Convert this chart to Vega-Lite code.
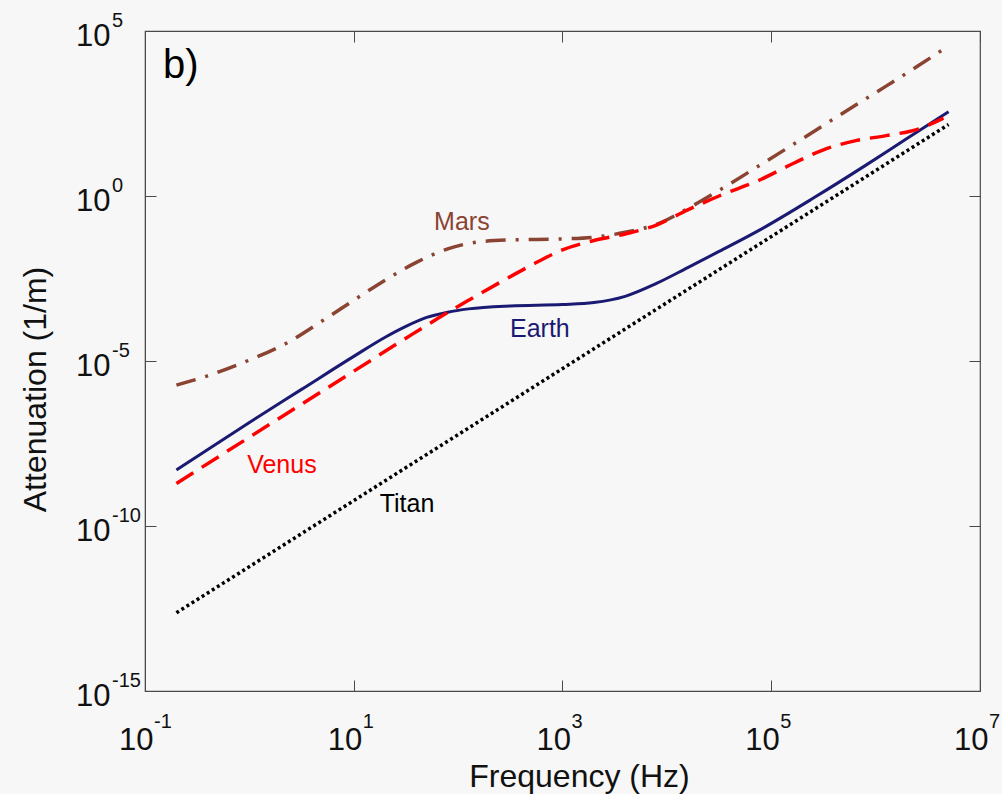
{
  "$schema": "https://vega.github.io/schema/vega-lite/v6.json",
  "width": 835,
  "height": 660,
  "autosize": "none",
  "padding": {"left": 145, "top": 31, "right": 22, "bottom": 103},
  "background": "#f7f7f7",
  "config": {
    "view": {"stroke": "#4a4a4a", "strokeWidth": 1.2},
    "font": "Liberation Sans",
    "axis": {"grid": false, "domainColor": "#4a4a4a", "tickColor": "#4a4a4a", "labelColor": "#111111", "titleColor": "#111111", "labelFont": "Liberation Sans", "titleFont": "Liberation Sans", "titleFontWeight": "normal"}
  },
  "datasets": {
    "curves": [
      {"series": "Titan", "f": 0.2, "a": 2.35e-13},
      {"series": "Titan", "f": 5000000, "a": 147},
      {"series": "Earth", "f": 0.2, "a": 5.0e-9},
      {"series": "Earth", "f": 1, "a": 1.38e-7},
      {"series": "Earth", "f": 3.16, "a": 1.38e-6},
      {"series": "Earth", "f": 10, "a": 1.38e-5},
      {"series": "Earth", "f": 20, "a": 5.25e-5},
      {"series": "Earth", "f": 31.6, "a": 1.12e-4},
      {"series": "Earth", "f": 50, "a": 2.09e-4},
      {"series": "Earth", "f": 79.4, "a": 3.02e-4},
      {"series": "Earth", "f": 126, "a": 3.8e-4},
      {"series": "Earth", "f": 316, "a": 4.68e-4},
      {"series": "Earth", "f": 1000, "a": 5.13e-4},
      {"series": "Earth", "f": 2000, "a": 5.89e-4},
      {"series": "Earth", "f": 3980, "a": 9.12e-4},
      {"series": "Earth", "f": 7940, "a": 2.24e-3},
      {"series": "Earth", "f": 15850, "a": 6.76e-3},
      {"series": "Earth", "f": 31620, "a": 2.09e-2},
      {"series": "Earth", "f": 79430, "a": 9.77e-2},
      {"series": "Earth", "f": 251200, "a": 0.851},
      {"series": "Earth", "f": 794300, "a": 8.32},
      {"series": "Earth", "f": 1995000, "a": 54.95},
      {"series": "Earth", "f": 5000000, "a": 355},
      {"series": "Mars", "f": 0.2, "a": 1.86e-6},
      {"series": "Mars", "f": 0.398, "a": 3.55e-6},
      {"series": "Mars", "f": 1, "a": 1.07e-5},
      {"series": "Mars", "f": 2.24, "a": 3.39e-5},
      {"series": "Mars", "f": 5.01, "a": 1.66e-4},
      {"series": "Mars", "f": 10, "a": 6.92e-4},
      {"series": "Mars", "f": 20, "a": 2.82e-3},
      {"series": "Mars", "f": 39.8, "a": 9.77e-3},
      {"series": "Mars", "f": 79.4, "a": 2.51e-2},
      {"series": "Mars", "f": 158.5, "a": 4.07e-2},
      {"series": "Mars", "f": 316, "a": 4.68e-2},
      {"series": "Mars", "f": 1000, "a": 5.01e-2},
      {"series": "Mars", "f": 1995, "a": 5.62e-2},
      {"series": "Mars", "f": 3981, "a": 7.94e-2},
      {"series": "Mars", "f": 7943, "a": 0.138},
      {"series": "Mars", "f": 15850, "a": 0.417},
      {"series": "Mars", "f": 31620, "a": 1.48},
      {"series": "Mars", "f": 79430, "a": 8.91},
      {"series": "Mars", "f": 199500, "a": 55.0},
      {"series": "Mars", "f": 501200, "a": 347},
      {"series": "Mars", "f": 1259000, "a": 2138},
      {"series": "Mars", "f": 2512000, "a": 8511},
      {"series": "Mars", "f": 5000000, "a": 35480},
      {"series": "Venus", "f": 0.2, "a": 1.95e-9},
      {"series": "Venus", "f": 1, "a": 4.9e-8},
      {"series": "Venus", "f": 3.16, "a": 4.9e-7},
      {"series": "Venus", "f": 10, "a": 4.9e-6},
      {"series": "Venus", "f": 31.6, "a": 4.9e-5},
      {"series": "Venus", "f": 79.4, "a": 2.95e-4},
      {"series": "Venus", "f": 126, "a": 6.92e-4},
      {"series": "Venus", "f": 251, "a": 2.4e-3},
      {"series": "Venus", "f": 501, "a": 7.94e-3},
      {"series": "Venus", "f": 1000, "a": 2.34e-2},
      {"series": "Venus", "f": 1995, "a": 4.47e-2},
      {"series": "Venus", "f": 3981, "a": 7.08e-2},
      {"series": "Venus", "f": 7943, "a": 0.132},
      {"series": "Venus", "f": 15850, "a": 0.38},
      {"series": "Venus", "f": 31620, "a": 1.0},
      {"series": "Venus", "f": 79430, "a": 3.16},
      {"series": "Venus", "f": 158500, "a": 9.33},
      {"series": "Venus", "f": 316200, "a": 25.1},
      {"series": "Venus", "f": 631000, "a": 46.8},
      {"series": "Venus", "f": 1259000, "a": 67.6},
      {"series": "Venus", "f": 2512000, "a": 104.7},
      {"series": "Venus", "f": 4467000, "a": 229}
    ],
    "labels": [
      {"label": "Mars", "f": 108.6, "a": 0.093},
      {"label": "Earth", "f": 607, "a": 5.5e-5},
      {"label": "Venus", "f": 2.05, "a": 4.0e-9},
      {"label": "Titan", "f": 32.4, "a": 2.7e-10}
    ],
    "panel": [
      {"label": "b)", "f": 0.22, "a": 3690}
    ],
    "xexp": [
      {"f": 0.1, "e": "-1"},
      {"f": 10, "e": "1"},
      {"f": 1000, "e": "3"},
      {"f": 100000, "e": "5"},
      {"f": 10000000, "e": "7"}
    ],
    "yexp": [
      {"a": 1e-15, "e": "-15"},
      {"a": 1e-10, "e": "-10"},
      {"a": 1e-5, "e": "-5"},
      {"a": 1, "e": "0"},
      {"a": 100000, "e": "5"}
    ]
  },
  "resolve": {"axis": {"x": "independent", "y": "independent"}},
  "layer": [
    {
      "data": {"name": "curves"},
      "transform": [{"filter": "datum.series == 'Titan'"}],
      "mark": {"type": "line", "color": "#000000", "strokeWidth": 3.5, "strokeDash": [3, 3]},
      "encoding": {
        "x": {"field": "f", "type": "quantitative",
              "scale": {"type": "log", "domain": [0.1, 10000000], "nice": false},
              "axis": {"orient": "bottom", "values": [0.1, 10, 1000, 100000, 10000000],
                       "labelExpr": "'10'",
                       "labelFontSize": 31, "tickSize": -11, "labelPadding": 69, "labelBaseline": "alphabetic", "labelAlign": "right", "labelOffset": 8, "labelFlush": false,
                       "title": "Frequency (Hz)", "titleFontSize": 32, "titleX": 434, "titleY": 95, "titleBaseline": "alphabetic"}},
        "y": {"field": "a", "type": "quantitative",
              "scale": {"type": "log", "domain": [1e-15, 100000], "nice": false},
              "axis": {"orient": "left", "values": [1e-15, 1e-10, 1e-5, 1, 100000],
                       "labelExpr": "'10'",
                       "labelFontSize": 31, "tickSize": -11, "labelPadding": 46, "labelBaseline": "alphabetic", "labelOffset": 14, "labelFlush": false,
                       "title": "Attenuation (1/m)", "titleFontSize": 32, "titleX": -100, "titleY": 358, "titleBaseline": "alphabetic", "titleAngle": -90}}
      }
    },
    {
      "data": {"name": "curves"},
      "transform": [{"filter": "datum.series == 'Earth'"}],
      "mark": {"type": "line", "color": "#1a1a72", "strokeWidth": 3, "interpolate": "monotone"},
      "encoding": {
        "x": {"field": "f", "type": "quantitative", "axis": null},
        "y": {"field": "a", "type": "quantitative", "axis": null}
      }
    },
    {
      "data": {"name": "curves"},
      "transform": [{"filter": "datum.series == 'Mars'"}],
      "mark": {"type": "line", "color": "#8b4332", "strokeWidth": 3.5, "strokeDash": [20, 10, 3, 10], "interpolate": "monotone"},
      "encoding": {
        "x": {"field": "f", "type": "quantitative", "axis": null},
        "y": {"field": "a", "type": "quantitative", "axis": null}
      }
    },
    {
      "data": {"name": "curves"},
      "transform": [{"filter": "datum.series == 'Venus'"}],
      "mark": {"type": "line", "color": "#ff0000", "strokeWidth": 3.5, "strokeDash": [20, 10], "interpolate": "monotone"},
      "encoding": {
        "x": {"field": "f", "type": "quantitative", "axis": null},
        "y": {"field": "a", "type": "quantitative", "axis": null}
      }
    },
    {
      "data": {"name": "labels"},
      "mark": {"type": "text", "fontSize": 25, "font": "Liberation Sans", "align": "center", "baseline": "alphabetic"},
      "encoding": {
        "x": {"field": "f", "type": "quantitative", "axis": null},
        "y": {"field": "a", "type": "quantitative", "axis": null},
        "text": {"field": "label"},
        "color": {"field": "label", "type": "nominal", "legend": null,
                  "scale": {"domain": ["Mars", "Earth", "Venus", "Titan"], "range": ["#8b4332", "#1a1a72", "#ff0000", "#000000"]}}
      }
    },
    {
      "data": {"name": "xexp"},
      "mark": {"type": "text", "fontSize": 20, "font": "Liberation Sans", "align": "left", "baseline": "alphabetic", "color": "#111111", "dx": 9, "dy": 37},
      "encoding": {
        "x": {"field": "f", "type": "quantitative", "axis": null},
        "y": {"datum": 1e-15, "type": "quantitative", "axis": null},
        "text": {"field": "e"}
      }
    },
    {
      "data": {"name": "yexp"},
      "mark": {"type": "text", "fontSize": 20, "font": "Liberation Sans", "align": "left", "baseline": "alphabetic", "color": "#111111", "dx": -33, "dy": -4},
      "encoding": {
        "x": {"datum": 0.1, "type": "quantitative", "axis": null},
        "y": {"field": "a", "type": "quantitative", "axis": null},
        "text": {"field": "e"}
      }
    },
    {
      "data": {"name": "panel"},
      "mark": {"type": "text", "fontSize": 40, "font": "Liberation Sans", "align": "center", "baseline": "alphabetic", "color": "#000000"},
      "encoding": {
        "x": {"field": "f", "type": "quantitative",
              "axis": {"orient": "top", "values": [0.1, 10, 1000, 100000, 10000000], "labels": false, "domain": false, "tickSize": -11, "title": null}},
        "y": {"field": "a", "type": "quantitative",
              "axis": {"orient": "right", "values": [1e-15, 1e-10, 1e-5, 1, 100000], "labels": false, "domain": false, "tickSize": -11, "title": null}},
        "text": {"field": "label"}
      }
    }
  ]
}
